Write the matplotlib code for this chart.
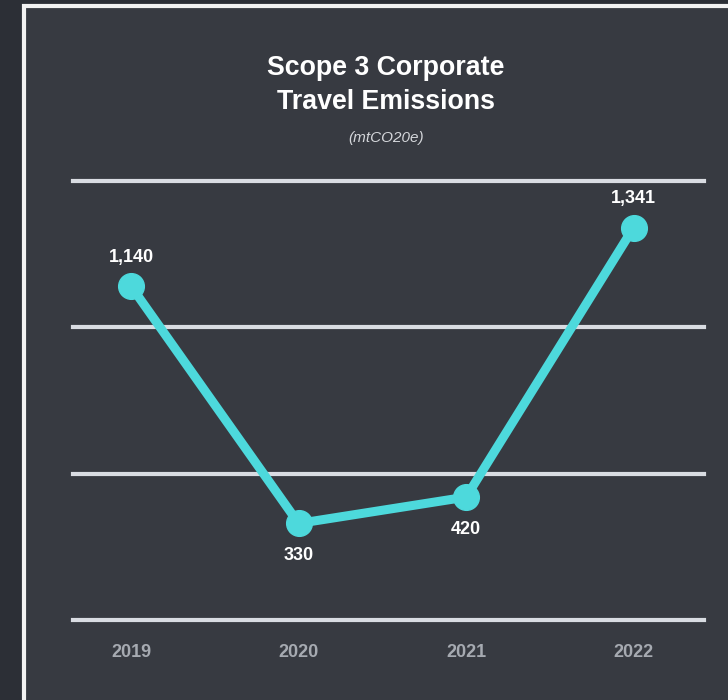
import matplotlib.pyplot as plt
from matplotlib.patches import Rectangle

years = ['2019', '2020', '2021', '2022']
emissions = [1140, 330, 420, 1341]
labels = ['1,140', '330', '420', '1,341']
label_above = [True, False, False, True]
grid_vals = [0, 500, 1000, 1500]

plt.rcParams['font.family'] = ['Liberation Sans', 'DejaVu Sans']

W, H = 728, 700
fig = plt.figure(figsize=(W / 100, H / 100), dpi=100, facecolor='#2c2f36')

# background panel with white frame
bg = fig.add_axes([0, 0, 1, 1], zorder=0)
bg.set_xlim(0, W)
bg.set_ylim(H, 0)
bg.axis('off')
bg.add_patch(Rectangle((23.5, 5.5), 720, 710, facecolor='#373a41',
                       edgecolor='#f2f2f2', linewidth=3))

# axes spans the grid lines: x 73..704 px, y 181..620 px
ax = fig.add_axes([73 / W, (H - 620) / H, (704 - 73) / W, (620 - 181) / H], zorder=1)
ax.set_facecolor('none')
ax.set_xlim(-0.347, 3.42)
ax.set_ylim(0, 1500)
for s in ax.spines.values():
    s.set_visible(False)
ax.set_yticks([])
ax.set_xticks(range(len(years)))
ax.set_xticklabels(years, color='#a6aab1', fontsize=13, fontweight='bold')
ax.tick_params(axis='x', length=0, pad=17)

for g in grid_vals:
    ax.axhline(g, color='#d9dce2', linewidth=3, clip_on=False, zorder=1)

x = range(len(years))
ax.plot(x, emissions, color='#4dd9dc', linewidth=6.5, marker='o',
        markersize=18.5, clip_on=False, zorder=3)

for xi, v, lab, up in zip(x, emissions, labels, label_above):
    off = 21 if up else -23
    ax.annotate(lab, (xi, v), xytext=(0, off), textcoords='offset points',
                ha='center', va='center', color='white', fontsize=13,
                fontweight='bold')

fig.text(386 / W, 1 - 85 / H, 'Scope 3 Corporate\nTravel Emissions',
         ha='center', va='center', color='white', fontsize=19.3,
         fontweight='bold', linespacing=1.38)
fig.text(386 / W, 1 - 138 / H, '(mtCO20e)', ha='center', va='center',
         color='#d4d6da', fontsize=11, style='italic')

fig.savefig('out.png', dpi=100, facecolor=fig.get_facecolor())
